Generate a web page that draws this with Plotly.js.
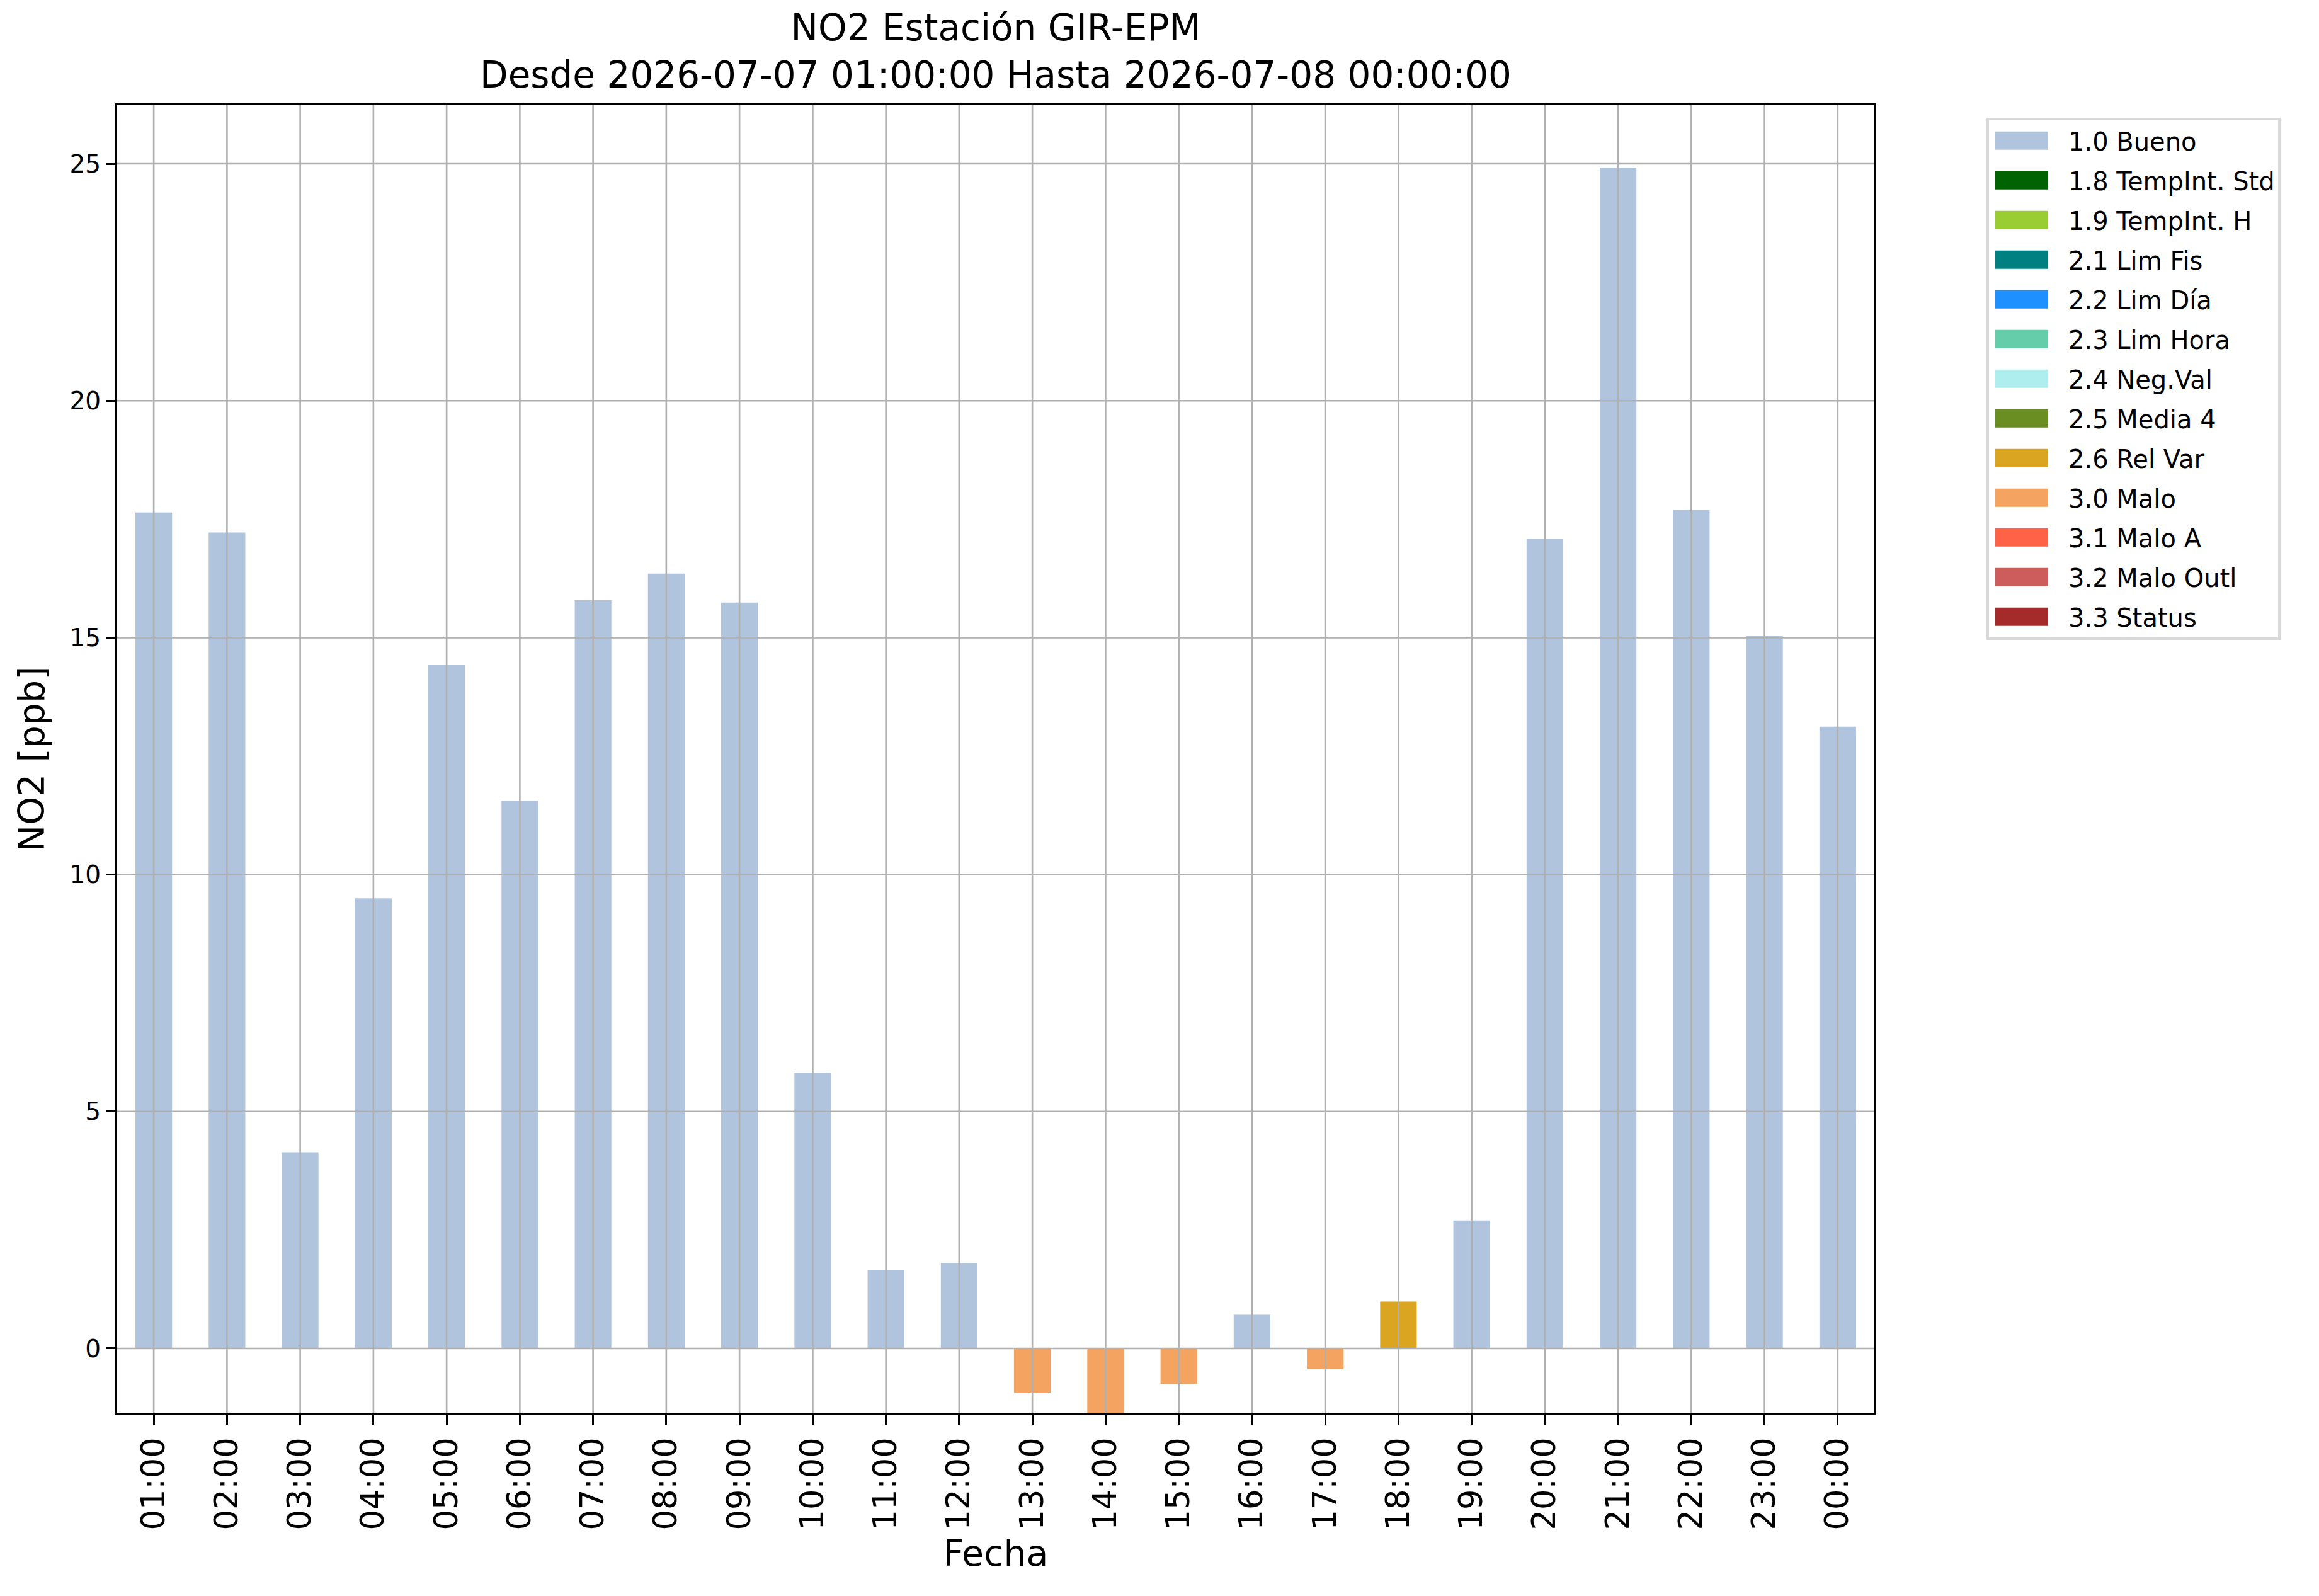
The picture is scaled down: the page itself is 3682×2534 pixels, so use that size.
<!DOCTYPE html>
<html>
<head>
<meta charset="utf-8">
<script src="https://cdn.plot.ly/plotly-3.0.1.min.js"></script>
<style>
	body { margin: 0; background: #ffffff; }
	#plot { width: 3682px; height: 2534px; }
</style>
</head>
<body>
<div id="plot"></div>
<script>
// hourly values, 2026-07-07 01:00 .. 2026-07-08 00:00
var hours = ['01:00', '02:00', '03:00', '04:00', '05:00', '06:00', '07:00', '08:00',
	'09:00', '10:00', '11:00', '12:00', '13:00', '14:00', '15:00', '16:00',
	'17:00', '18:00', '19:00', '20:00', '21:00', '22:00', '23:00', '00:00'];
var no2 = [17.64, 17.22, 4.14, 9.50, 14.42, 11.56, 15.79, 16.35,
	15.74, 5.82, 1.66, 1.80, -0.93, -1.45, -0.75, 0.71,
	-0.44, 0.99, 2.70, 17.08, 24.92, 17.69, 15.04, 13.12];
var flags = [1.0, 1.0, 1.0, 1.0, 1.0, 1.0, 1.0, 1.0,
	1.0, 1.0, 1.0, 1.0, 3.0, 3.0, 3.0, 1.0,
	3.0, 2.6, 1.0, 1.0, 1.0, 1.0, 1.0, 1.0];

// quality flag categories
var flagCodes = [1.0, 1.8, 1.9, 2.1, 2.2, 2.3, 2.4, 2.5, 2.6, 3.0, 3.1, 3.2, 3.3];
var flagNames = ['1.0 Bueno', '1.8 TempInt. Std', '1.9 TempInt. H', '2.1 Lim Fis', '2.2 Lim Día',
	'2.3 Lim Hora', '2.4 Neg.Val', '2.5 Media 4', '2.6 Rel Var', '3.0 Malo',
	'3.1 Malo A', '3.2 Malo Outl', '3.3 Status'];
var flagColors = ['#B0C4DE', '#006400', '#9ACD32', '#008080', '#1E90FF',
	'#66CDAA', '#AFEEEE', '#6B8E23', '#DAA520', '#F4A460',
	'#FF6347', '#CD5C5C', '#A52A2A'];

var yTicks = [0, 5, 10, 15, 20, 25];

var fontName = 'DejaVu Sans, Liberation Sans, sans-serif';
var gridColor = '#b0b0b0';

// one bar trace per flag, null where the hour has another flag
var data = [];
for (var i = 0; i < flagCodes.length; i++) {
	var y = [];
	for (var j = 0; j < hours.length; j++) {
		y.push(flags[j] === flagCodes[i] ? no2[j] : null);
	}
	data.push({
		type: 'bar',
		x: hours,
		y: y,
		name: flagNames[i],
		legendgroup: 'g' + i,
		width: 0.5,
		marker: {color: flagColors[i], line: {width: 0}},
		hoverinfo: 'skip'
	});
}

// grid drawn over the bars like matplotlib
var shapes = [];
for (var j = 0; j < hours.length; j++) {
	shapes.push({type: 'line', layer: 'above', xref: 'x', yref: 'paper',
		x0: hours[j], x1: hours[j], y0: 0, y1: 1,
		line: {color: gridColor, width: 2.6}});
}
for (var k = 0; k < yTicks.length; k++) {
	shapes.push({type: 'line', layer: 'above', xref: 'paper', yref: 'y',
		x0: 0, x1: 1, y0: yTicks[k], y1: yTicks[k],
		line: {color: gridColor, width: 2.6}});
}

var layout = {
	width: 3682,
	height: 2534,
	paper_bgcolor: '#ffffff',
	plot_bgcolor: '#ffffff',
	margin: {l: 186, r: 706, t: 166, b: 290, pad: 0},
	barmode: 'overlay',
	font: {family: fontName, color: '#000000'},
	title: {
		text: 'NO2 Estación GIR-EPM<br>Desde 2026-07-07 01:00:00 Hasta 2026-07-08 00:00:00',
		font: {size: 58, family: fontName},
		x: 0.5, xref: 'paper', xanchor: 'center',
		y: 1 - 64 / 2534, yref: 'container', yanchor: 'top'
	},
	xaxis: {
		type: 'category',
		range: [-0.5, 23.5],
		tickangle: -90,
		tickfont: {size: 51},
		ticks: 'outside', ticklen: 15, tickwidth: 3, tickcolor: '#000',
		showgrid: false,
		showline: true, linecolor: '#000', linewidth: 3, mirror: true,
		zeroline: false,
		title: {text: 'Fecha', font: {size: 57}, standoff: 18}
	},
	yaxis: {
		range: [-1.37, 26.25],
		tickvals: yTicks,
		tickfont: {size: 39},
		ticks: 'outside', ticklen: 15, tickwidth: 3, tickcolor: '#000',
		showgrid: false,
		showline: true, linecolor: '#000', linewidth: 3, mirror: true,
		zeroline: false,
		title: {text: 'NO2 [ppb]', font: {size: 57}, standoff: 22}
	},
	shapes: shapes,
	showlegend: true,
	legend: {
		x: 1.0638, xanchor: 'left',
		y: 0.99, yanchor: 'top',
		bgcolor: '#ffffff',
		bordercolor: '#d9d9d9',
		borderwidth: 4,
		font: {size: 40, family: fontName},
		itemwidth: 116,
		tracegroupgap: 8,
		traceorder: 'grouped'
	}
};

// draw the legend swatches as wide rectangles, as matplotlib does
function widenSwatches(gd) {
	var pts = gd.querySelectorAll('.legend .legendpoints path');
	for (var p = 0; p < pts.length; p++) {
		pts[p].setAttribute('d', 'M-42,14.5H42V-14.5H-42Z');
		pts[p].setAttribute('transform', 'translate(52,0)');
	}
}

Plotly.newPlot('plot', data, layout, {displayModeBar: false, staticPlot: true}).then(function(gd) {
	widenSwatches(gd);
	gd.on('plotly_afterplot', function() { widenSwatches(gd); });
});
</script>
</body>
</html>
